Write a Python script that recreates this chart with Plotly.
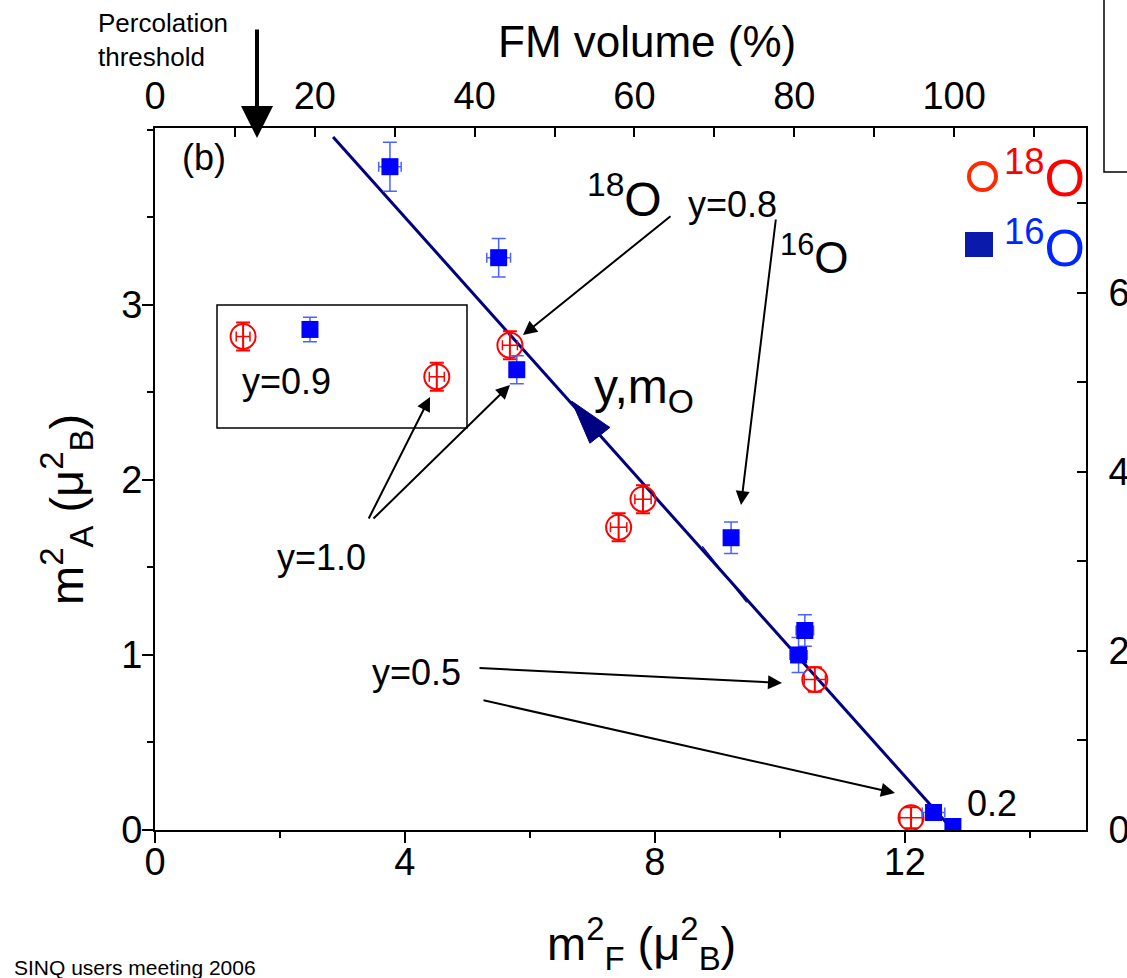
import plotly.graph_objects as go

# ---- data -------------------------------------------------------------
# 18O samples (open red circles): m_F^2, m_A^2 and their uncertainties
o18_mf2 = [1.41, 4.51, 5.68, 7.42, 7.81, 10.56, 12.10]
o18_ma2 = [2.82, 2.59, 2.77, 1.73, 1.89, 0.86, 0.07]
o18_mf2_err = [0.11, 0.12, 0.12, 0.13, 0.13, 0.17, 0.18]
o18_ma2_err = [0.08, 0.08, 0.08, 0.08, 0.08, 0.07, 0.06]

# 16O samples (filled blue squares)
o16_mf2 = [2.48, 3.76, 5.50, 5.79, 9.22, 10.30, 10.40, 12.46, 12.77]
o16_ma2 = [2.86, 3.79, 3.27, 2.63, 1.67, 1.00, 1.14, 0.10, 0.02]
o16_mf2_err = [0.05, 0.18, 0.19, 0.08, 0.05, 0.14, 0.14, 0.18, 0.05]
o16_ma2_err = [0.07, 0.14, 0.11, 0.08, 0.09, 0.10, 0.09, 0.04, 0.03]

# straight phase-separation line m_A^2 vs m_F^2
fit_mf2 = [2.85, 12.77]
fit_ma2 = [3.96, 0.00]

# axis ticks
x_ticks = [0, 4, 8, 12]
y_ticks = [0, 1, 2, 3]
fm_ticks = [0, 20, 40, 60, 80, 100]
y2_ticks = [0, 2, 4, 6]

# ---- geometry helpers ---------------------------------------------------
W, H = 1127, 978
L, R, T, B = 155, 1086, 128, 830
FONT = "Liberation Sans, Arial, sans-serif"
NAVY = "#000080"


def px(x):
    return (x - L) / (R - L)


def py(y):
    return (B - y) / (B - T)


fig = go.Figure()

fig.add_trace(go.Scatter(
    x=fit_mf2, y=fit_ma2, mode="lines",
    line=dict(color=NAVY, width=3), showlegend=False, hoverinfo="skip"))

fig.add_trace(go.Scatter(
    x=o18_mf2, y=o18_ma2, mode="markers", name="18O",
    marker=dict(symbol="circle-open", size=25, color="#ff0000",
                line=dict(width=2, color="#ff0000")),
    error_y=dict(type="data", array=o18_ma2_err, color="#ff0000",
                 thickness=2, width=7),
    error_x=dict(type="data", array=o18_mf2_err, color="#ff0000",
                 thickness=1.5, width=5),
    showlegend=False))

fig.add_trace(go.Scatter(
    x=o16_mf2, y=o16_ma2, mode="markers", name="16O",
    marker=dict(symbol="square", size=17, color="#0000ff"),
    error_y=dict(type="data", array=o16_ma2_err, color="#4a63ff",
                 thickness=1.5, width=7),
    error_x=dict(type="data", array=o16_mf2_err, color="#4a63ff",
                 thickness=1.5, width=5),
    showlegend=False))

# invisible trace that pins the secondary axes
fig.add_trace(go.Scatter(x=[None], y=[None], xaxis="x2", yaxis="y2",
                         showlegend=False, hoverinfo="skip"))

axis_common = dict(showline=True, linecolor="black", linewidth=2,
                   showgrid=False, zeroline=False, tickcolor="black",
                   tickwidth=2, automargin=False,
                   tickfont=dict(family=FONT, size=38, color="black"))

fig.update_layout(
    width=W, height=H,
    margin=dict(l=L, r=W - R, t=T, b=H - B, pad=0, autoexpand=False),
    paper_bgcolor="white", plot_bgcolor="white",
    font=dict(family=FONT, color="black"),
    xaxis=dict(range=[0, 14.9], tickvals=x_ticks, ticks="outside", ticklen=11,
               minor=dict(dtick=2, ticks="outside", ticklen=6, tickcolor="black", tickwidth=2),
               ticklabelstandoff=-14,
               **axis_common),
    yaxis=dict(range=[0, 4.011], tickvals=y_ticks, ticks="outside", ticklen=11,
               minor=dict(dtick=0.5, ticks="outside", ticklen=6, tickcolor="black", tickwidth=2),
               ticklabelstandoff=-8,
               **axis_common),
    xaxis2=dict(range=[0, 116.5], tickvals=fm_ticks, ticks="inside", ticklen=9,
                overlaying="x", side="top", anchor="y",
                minor=dict(dtick=10, ticks="inside", ticklen=9, tickcolor="black", tickwidth=2),
                ticklabelstandoff=2,
                **axis_common),
    yaxis2=dict(range=[0, 7.84], tickvals=y2_ticks, ticks="inside", ticklen=9,
                overlaying="y", side="right", anchor="x",
                minor=dict(dtick=1, ticks="inside", ticklen=9, tickcolor="black", tickwidth=2),
                ticklabelstandoff=13,
                **axis_common),
)

ann = []


def text(t, x, y, size, color="black", xanchor="center", yanchor="middle",
         angle=0, align="center"):
    ann.append(dict(text=t, x=px(x), y=py(y), xref="paper", yref="paper",
                    showarrow=False, xanchor=xanchor, yanchor=yanchor,
                    textangle=angle, align=align,
                    font=dict(family=FONT, size=size, color=color)))


def arrow(tip, tail, width=2, head=2, size=1.4):
    ann.append(dict(text="", x=px(tip[0]), y=py(tip[1]), xref="paper", yref="paper",
                    ax=tail[0] - tip[0], ay=tail[1] - tip[1],
                    showarrow=True, arrowhead=head, arrowsize=size,
                    arrowwidth=width, arrowcolor="black", standoff=0))


# axis titles
text("FM volume (%)", 647, 42, 44)
text("m<sup>2</sup><sub>F</sub> (μ<sup>2</sup><sub>B</sub>)", 641, 943, 47)
text("m<sup>2</sup><sub>A</sub> (μ<sup>2</sup><sub>B</sub>)", 66, 510, 47, angle=-90)

# labels inside the frame
text("Percolation<br>threshold", 96, 6, 26, xanchor="left", yanchor="top", align="left")
text("(b)", 204, 158, 36)
text("<sup>18</sup>O", 624, 196, 48)
text("y=0.8", 732, 204, 36)
text("<sup>16</sup>O", 814, 254, 44)
text("y,m<sub>O</sub>", 644, 390, 48)
text("y=0.9", 286, 381, 36)
text("y=1.0", 321, 557, 36)
text("y=0.5", 416, 672, 36)
text("0.2", 992, 803, 36)
text("SINQ users meeting 2006", 12, 967, 21, xanchor="left")

# key in the upper right corner
text("<sup>18</sup>O", 1044, 174, 52, color="#ff0000")
text("<sup>16</sup>O", 1044, 244, 52, color="#0026ff")

# arrows
arrow((257, 138), (257, 28), width=4, head=2, size=1.6)
arrow((523, 335), (672, 215))
arrow((741, 505), (776, 218))
arrow((430, 397), (368, 520))
arrow((510, 385), (372, 520))
arrow((782, 683), (478, 668))
arrow((895, 793), (482, 700))

fig.update_layout(annotations=ann)

shapes = [
    # y = 0.9 box
    dict(type="rect", xref="paper", yref="paper",
         x0=px(217), x1=px(467), y0=py(428), y1=py(305),
         line=dict(color="black", width=1.5)),
    # neighbouring panel frame
    dict(type="rect", xref="paper", yref="paper",
         x0=px(1104), x1=px(1200), y0=py(172), y1=py(-20),
         line=dict(color="black", width=1.5)),
    # key symbols
    dict(type="circle", xref="paper", yref="paper",
         x0=px(969), x1=px(996), y0=py(190), y1=py(163),
         line=dict(color="#ff2a00", width=4)),
    dict(type="rect", xref="paper", yref="paper",
         x0=px(965), x1=px(993), y0=py(257), y1=py(232),
         fillcolor="#0a1aaa", line=dict(width=0)),
    # direction marker on the line
    dict(type="path", xref="x", yref="y",
         path="M 6.67 2.45 L 6.96 2.21 L 7.28 2.30 Z",
         fillcolor=NAVY, line=dict(color=NAVY, width=1)),
    # faint doubled segment of the line
    dict(type="line", xref="x", yref="y",
         x0=8.76, y0=1.62, x1=9.47, y1=1.30,
         line=dict(color=NAVY, width=1.2)),
]
fig.update_layout(shapes=shapes)

fig.write_html("out.html")
